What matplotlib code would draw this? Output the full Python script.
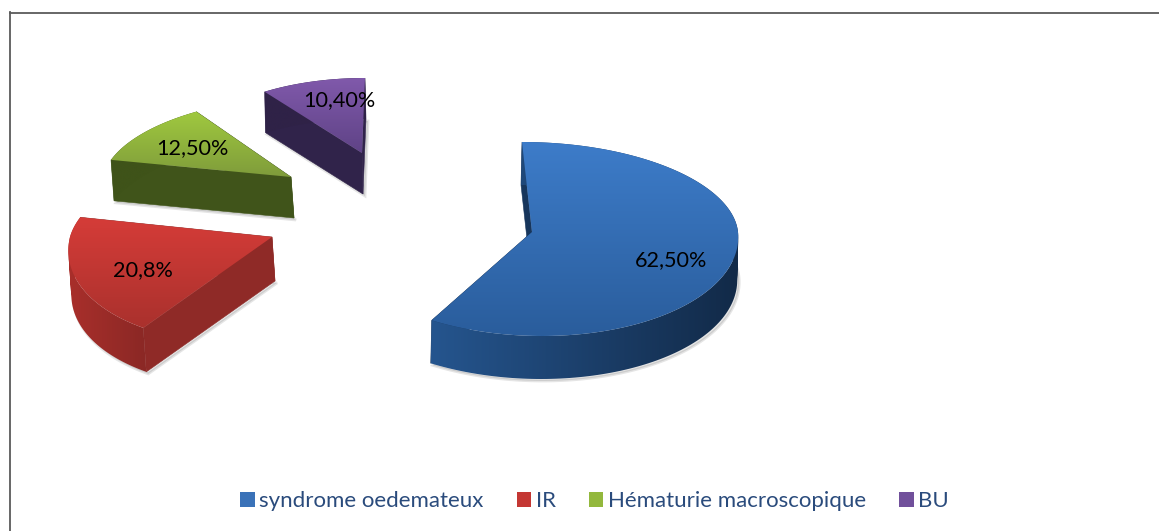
import numpy as np
import matplotlib
matplotlib.use("Agg")
import matplotlib.pyplot as plt
from matplotlib.patches import Patch, PathPatch
from matplotlib.path import Path
from matplotlib.colors import LinearSegmentedColormap

categories = ["syndrome oedemateux", "IR", "Hématurie macroscopique", "BU"]
values = [62.5, 20.8, 12.5, 10.4]
value_labels = ["62,50%", "20,8%", "12,50%", "10,40%"]

top_light = ["#3d7cc9", "#d53c38", "#a0c93f", "#8059ab"]
top_dark = ["#2a5d9c", "#aa312d", "#7f9c3b", "#5f4386"]
rim_left = ["#25558e", "#a92f2b", "#3f5319", "#2f2247"]
rim_right = ["#122a48", "#8b2825", "#3f5319", "#2f2247"]
face_col = ["#17365c", "#8f2a27", "#40541a", "#30234a"]
legend_col = ["#3a72b8", "#c43733", "#93b83d", "#71509b"]

# slice placement in pixels:
# apex x, apex y, radius x, shear, radius up, radius down, depth, depth x-shift
layout = [
    (532, 232, 206, -10, 90, 104, 43, -1),
    (272, 237, 202, 26, 92, 107, 44, 3),
    (291, 177, 188, 17, 80, 80, 41, 3),
    (362, 153, 173, 3, 75, 75, 41, 1),
]
label_pos = [(671, 260), (143, 270), (192, 148), (339, 100)]

FONT = "Lato"
W, H = 1159, 531
fig = plt.figure(figsize=(W / 100, H / 100), dpi=100, facecolor="white")
ax = fig.add_axes([9.5 / W, 0, 1 - 9.5 / W, 1 - 12.5 / H])
ax.set_xlim(9.5, W)
ax.set_ylim(H, 12.5)
ax.set_xticks([])
ax.set_yticks([])
for side in ("right", "bottom"):
    ax.spines[side].set_visible(False)
for side in ("left", "top"):
    ax.spines[side].set_color("#5a5a5a")
    ax.spines[side].set_linewidth(1.3)


def project(p, t):
    cx, cy, rx, s, ru, rd = p[:6]
    st, ct = np.sin(t), np.cos(t)
    x = cx + rx * ct + s * st
    y = cy - st * np.where(st > 0, ru, rd)
    return x, y


def gradient(path, c0, c1, z, horizontal):
    """Fill a path with a linear gradient, clipped image in data coordinates."""
    patch = PathPatch(path, transform=ax.transData, fc="none", ec="none")
    ax.add_patch(patch)
    cmap = LinearSegmentedColormap.from_list("g", [c0, c1])
    ramp = np.linspace(0, 1, 128)
    ramp = ramp.reshape(1, -1) if horizontal else ramp.reshape(-1, 1)
    xs, ys = path.vertices[:, 0], path.vertices[:, 1]
    im = ax.imshow(ramp, cmap=cmap, aspect="auto", origin="upper",
                   extent=(xs.min(), xs.max(), ys.max(), ys.min()),
                   zorder=z, interpolation="bilinear")
    im.set_clip_path(patch)


def swept_rim(x, y, dx, d):
    """Compound path of the rim swept down by the depth, all quads wound alike."""
    verts, codes = [], []
    for j in range(len(x) - 1):
        q = np.array([[x[j], y[j]], [x[j + 1], y[j + 1]],
                      [x[j + 1] + dx, y[j + 1] + d], [x[j] + dx, y[j] + d]])
        area = np.sum(q[:, 0] * np.roll(q[:, 1], -1) - np.roll(q[:, 0], -1) * q[:, 1])
        if area < 0:
            q = q[::-1]
        verts += [*q, q[0]]
        codes += [Path.MOVETO, Path.LINETO, Path.LINETO, Path.LINETO, Path.CLOSEPOLY]
    return Path(np.array(verts), codes)


shares = np.array(values) / np.sum(values) * 2 * np.pi
ends = np.pi / 2 - np.cumsum(shares)
starts = ends + shares

for i, p in enumerate(layout):
    cx, cy, d, dx = p[0], p[1], p[6], p[7]
    t = np.linspace(starts[i], ends[i], 160)
    x, y = project(p, t)

    # soft shadow of the side walls
    sx = np.r_[cx, x, cx] + dx
    sy = np.r_[cy, y, cy] + d
    ax.fill(sx + 2, sy + 2, color="#000000", alpha=0.10, lw=2, zorder=1 + i)

    # radial cut faces
    for k in (0, -1):
        ax.fill([cx, x[k], x[k] + dx, cx + dx], [cy, y[k], y[k] + d, cy + d],
                color=face_col[i], lw=0.4, zorder=2 + i)

    # rim wall with a horizontal gradient
    gradient(swept_rim(x, y, dx, d), rim_left[i], rim_right[i], 2 + i, True)

    # top face with a vertical gradient
    top = np.c_[np.r_[cx, x, cx], np.r_[cy, y, cy]]
    gradient(Path(top, closed=True), top_light[i], top_dark[i], 3 + i, False)

ax.set_xlim(9.5, W)
ax.set_ylim(H, 12.5)

for lab, (lx, ly) in zip(value_labels, label_pos):
    ax.text(lx, ly, lab, ha="center", va="center", fontsize=15.6, color="black",
            family=FONT, zorder=20)

handles = [Patch(facecolor=c, edgecolor="none") for c in legend_col]
leg = ax.legend(handles, categories, loc="center", ncol=4, frameon=False,
                prop={"family": FONT, "size": 16}, labelcolor="#2a4b7c",
                handlelength=0.65, handleheight=0.65, handletextpad=0.2,
                columnspacing=1.5, borderpad=0, borderaxespad=0)
leg.set_bbox_to_anchor((594.5 / W, 1 - 501 / H), transform=fig.transFigure)

fig.savefig("out.png", dpi=100, facecolor="white")
